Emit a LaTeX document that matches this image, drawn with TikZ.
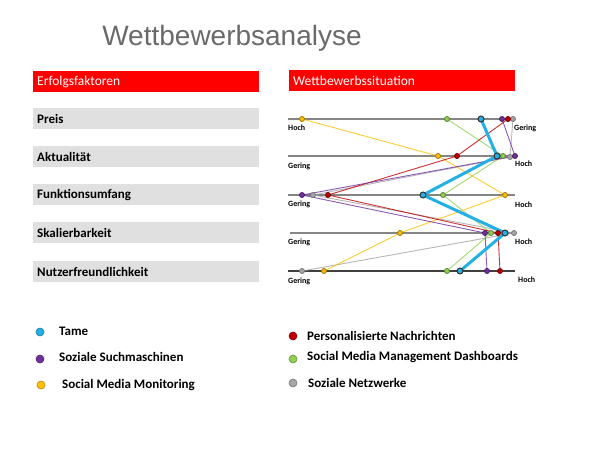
\documentclass[tikz,border=0pt]{standalone}
\usepackage{fontspec}
\setmainfont{Carlito}
\newfontfamily\titlefont{Liberation Sans}
\definecolor{hdrred}{HTML}{FF0000}
\definecolor{boxgray}{HTML}{E0E0E0}
\definecolor{titlegray}{HTML}{6A6A6A}
\definecolor{axisgray}{HTML}{858585}
\definecolor{axisdark}{HTML}{404040}
\definecolor{ctame}{HTML}{22B0E6}
\definecolor{cpurple}{HTML}{7030A0}
\definecolor{cyellow}{HTML}{FFC000}
\definecolor{cred}{HTML}{C00000}
\definecolor{cgreen}{HTML}{92D050}
\definecolor{cgray}{HTML}{A6A6A6}
\tikzset{
  facbox/.style={fill=boxgray, anchor=north west, text width=218pt, inner xsep=4pt, inner ysep=0pt,
    minimum height=21pt, align=left, font=\bfseries\fontsize{13}{15}\selectfont},
  hdrbox/.style={fill=hdrred, text=white, anchor=north west, text width=218pt, inner xsep=4pt, inner ysep=0pt,
    minimum height=21pt, align=left, font=\fontsize{13.5}{15}\selectfont},
  axisline/.style={draw=axisgray, line width=1.5pt},
  axlbl/.style={font=\bfseries\fontsize{8}{9}\selectfont, inner sep=0pt},
  conn/.style={line width=0.9pt, draw opacity=0.8},
  tameconn/.style={draw=ctame, line width=3pt},
  dot/.style={circle, inner sep=0pt, minimum size=5pt, line width=0.8pt},
  tamedot/.style={dot, fill=ctame, draw=black!80, minimum size=6pt, line width=1pt},
  legdot/.style={circle, inner sep=0pt, minimum size=8pt, line width=0.6pt},
  legtxt/.style={anchor=west, inner sep=0pt, font=\bfseries\fontsize{13}{15}\selectfont},
}
\begin{document}
\begin{tikzpicture}[x=1pt,y=-1pt]
\useasboundingbox (0,0) rectangle (600,450);
\fill[white] (0,0) rectangle (600,450);

% title
\node[font=\titlefont\fontsize{28}{30}\selectfont, text=titlegray] (title) at (232,38) {Wettbewerbsanalyse};

% left column
\node[hdrbox] (erf) at (33,71) {Erfolgsfaktoren};
\node[facbox] (preis) at (33,108) {Preis};
\node[facbox] (aktu) at (33,146) {Aktualität};
\node[facbox] (funk) at (33,184) {Funktionsumfang};
\node[facbox] (skal) at (33,222) {Skalierbarkeit};
\node[facbox] (nutz) at (33,261) {Nutzerfreundlichkeit};

% right header
\node[hdrbox] (wett) at (289,70) {Wettbewerbssituation};

% axes
\coordinate (a1l) at (288,119); \coordinate (a1r) at (515,119);
\coordinate (a2l) at (288,156); \coordinate (a2r) at (515,156);
\coordinate (a3l) at (288,195); \coordinate (a3r) at (515,195);
\coordinate (a4l) at (290,233); \coordinate (a4r) at (515,233);
\coordinate (a5l) at (288,271); \coordinate (a5r) at (515,271);
\draw[axisline] (a1l) -- (a1r);
\draw[axisline] (a2l) -- (a2r);
\draw[axisline] (a3l) -- (a3r);
\draw[axisline] (a4l) -- (a4r);
\draw[axisline, draw=axisdark] (a5l) -- (a5r);

% axis labels
\node[axlbl, anchor=west] (l1l) at (288,128) {Hoch};
\node[axlbl, anchor=west] (l1r) at (514,128) {Gering};
\node[axlbl, anchor=west] (l2l) at (288,166) {Gering};
\node[axlbl, anchor=west] (l2r) at (515,164) {Hoch};
\node[axlbl, anchor=west] (l3l) at (288,204) {Gering};
\node[axlbl, anchor=west] (l3r) at (515,205) {Hoch};
\node[axlbl, anchor=west] (l4l) at (288,242) {Gering};
\node[axlbl, anchor=west] (l4r) at (515,242) {Hoch};
\node[axlbl, anchor=west] (l5l) at (288,281) {Gering};
\node[axlbl, anchor=west] (l5r) at (518,280) {Hoch};

% data points
\coordinate (t1) at (481,119); \coordinate (t2) at (497,156); \coordinate (t3) at (423,195); \coordinate (t4) at (505,233); \coordinate (t5) at (460,271);
\coordinate (p1) at (502,119); \coordinate (p2) at (515,156); \coordinate (p3) at (302,195); \coordinate (p4) at (485,233); \coordinate (p5) at (487,271);
\coordinate (y1) at (302,119); \coordinate (y2) at (438,156); \coordinate (y3) at (505,195); \coordinate (y4) at (400,233); \coordinate (y5) at (324,271);
\coordinate (r1) at (508,119); \coordinate (r2) at (457,156); \coordinate (r3) at (328,195); \coordinate (r4) at (498,233); \coordinate (r5) at (500,271);
\coordinate (g1) at (447,119); \coordinate (g2) at (503,156); \coordinate (g3) at (443,195); \coordinate (g4) at (491,233); \coordinate (g5) at (447,271);
\coordinate (s1) at (513,119); \coordinate (s2) at (510,157); \coordinate (s3) at (313,195); \coordinate (s4) at (514,233); \coordinate (s5) at (302,271);

% connectors
\draw[conn, draw=cgray] (s1) -- (s2) -- (s3) -- (s4) -- (s5);
\draw[conn, draw=cgreen] (g1) -- (g2) -- (g3) -- (g4) -- (g5);
\draw[conn, draw=cyellow] (y1) -- (y2) -- (y3) -- (y4) -- (y5);
\draw[conn, draw=cred] (r1) -- (r2) -- (r3) -- (r4) -- (r5);
\draw[conn, draw=cpurple] (p1) -- (p2) -- (p3) -- (p4) -- (p5);
\draw[tameconn] (t1) -- (t2) -- (t3) -- (t4) -- (t5);

% dots
\foreach \i in {1,...,5} {
  \node[dot, fill=cgray, draw=cgray!70!black] (s\i d) at (s\i) {};
  \node[dot, fill=cgreen, draw=cgreen!60!black] (g\i d) at (g\i) {};
  \node[dot, fill=cyellow, draw=cyellow!60!black] (y\i d) at (y\i) {};
  \node[dot, fill=cred, draw=cred!60!black] (r\i d) at (r\i) {};
  \node[dot, fill=cpurple, draw=cpurple!60!black] (p\i d) at (p\i) {};
  \node[tamedot] (t\i d) at (t\i) {};
}

% legend
\node[legdot, fill=ctame, draw=ctame!70!black] (ld1) at (40,332) {};
\node[legtxt] (lt1) at (59,331) {Tame};
\node[legdot, fill=cpurple, draw=cpurple!70!black] (ld2) at (40,359) {};
\node[legtxt] (lt2) at (59,357) {Soziale Suchmaschinen};
\node[legdot, fill=cyellow, draw=cyellow!70!black] (ld3) at (41,385) {};
\node[legtxt] (lt3) at (62,385) {Social Media Monitoring};
\node[legdot, fill=cred, draw=cred!70!black] (ld4) at (293,336) {};
\node[legtxt] (lt4) at (307,336) {Personalisierte Nachrichten};
\node[legdot, fill=cgreen, draw=cgreen!70!black] (ld5) at (293,359) {};
\node[legtxt] (lt5) at (307,357) {Social Media Management Dashboards};
\node[legdot, fill=cgray, draw=cgray!70!black] (ld6) at (293,383) {};
\node[legtxt] (lt6) at (308,383) {Soziale Netzwerke};
\end{tikzpicture}
\end{document}
